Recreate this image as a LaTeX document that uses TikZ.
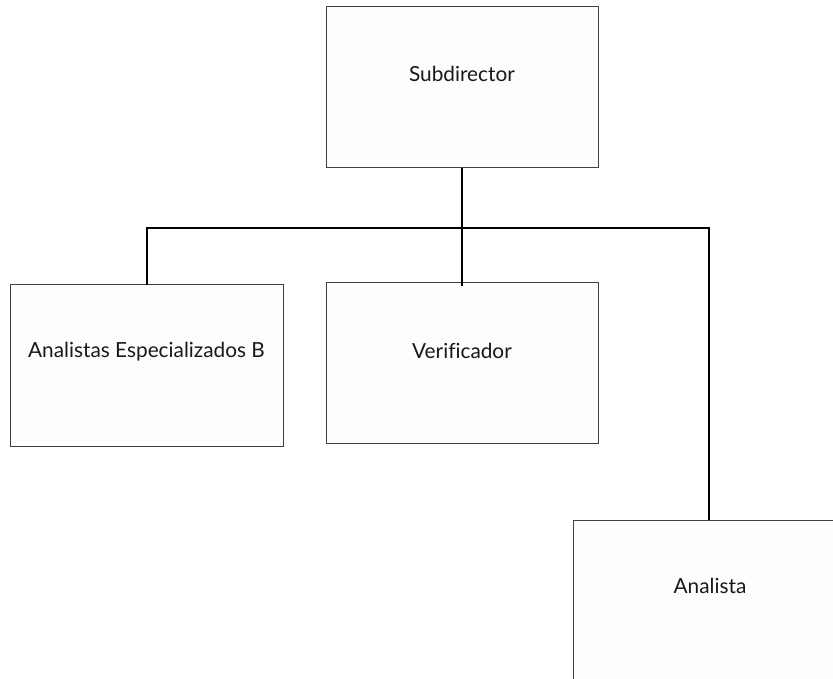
\documentclass[tikz,border=0pt]{standalone}
\usepackage{fontspec}
\setmainfont[Ligatures=NoCommon]{Lato}
\begin{document}
\begin{tikzpicture}[x=1pt,y=-1pt,
  box/.style={draw=black!75,line width=1pt,fill=black!0.7,anchor=north west,inner sep=0pt,outer sep=0pt},
  lbl/.style={font=\fontsize{20.8}{24}\selectfont,text=black!90,anchor=center,inner sep=0pt},
  conn/.style={draw=black,line width=2pt}]
\useasboundingbox (0,0) rectangle (833,679);
\fill[white] (0,0) rectangle (833,679);
% boxes
\node[box,minimum width=272pt,minimum height=161pt] (subbox) at (326,7) {};
\node[lbl] (sub) at (462,74) {Subdirector};
\node[box,minimum width=273pt,minimum height=161pt] (aebbox) at (10,285) {};
\node[lbl] (aeb) at (146.5,352) {Analistas Especializados B};
\node[box,minimum width=272pt,minimum height=160pt] (verbox) at (326,283) {};
\node[lbl] (ver) at (462,351) {Verificador};
\node[box,minimum width=280pt,minimum height=180pt] (anabox) at (573,520) {};
\node[lbl] (ana) at (710,586) {Analista};
% connectors
\coordinate (hub) at (subbox.south |- 0,228);
\coordinate (ana-t) at (709,520);
\draw[conn] (subbox.south) -- (hub) -- ([yshift=-3pt]verbox.north);
\draw[conn] (aebbox.north) |- (hub) -| (ana-t);
\end{tikzpicture}
\end{document}
